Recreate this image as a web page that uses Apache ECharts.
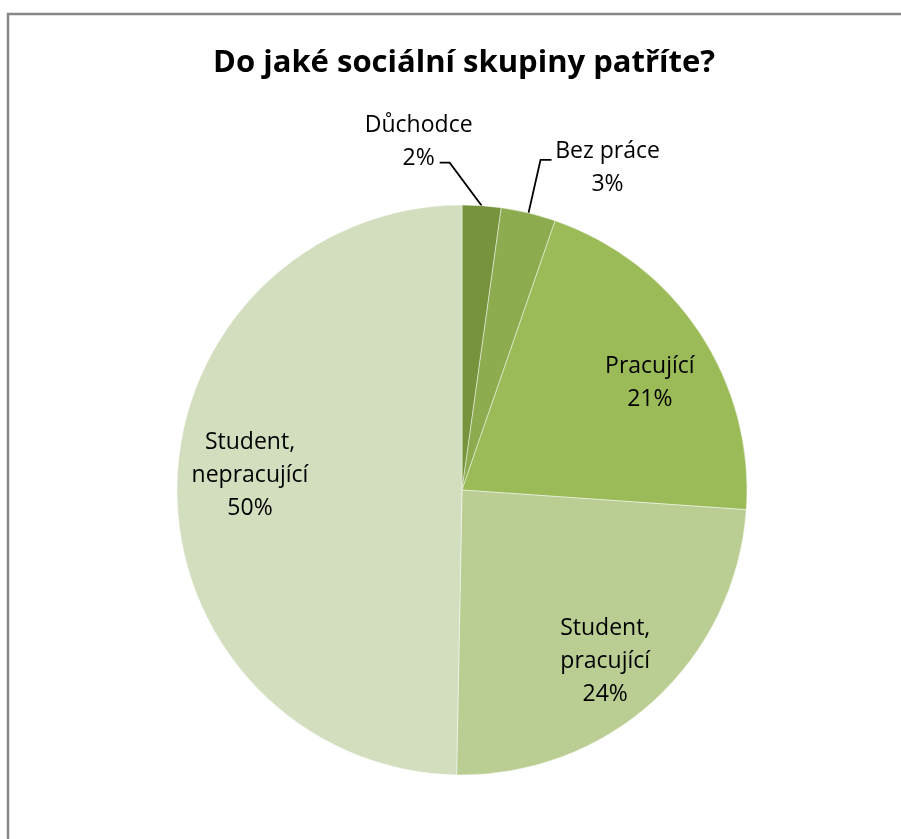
<!DOCTYPE html>
<html>
<head>
<meta charset="utf-8">
<script src="https://cdn.jsdelivr.net/npm/echarts@6/dist/echarts.min.js"></script>
<style>
  html, body { margin: 0; padding: 0; background: #fff; }
  #chart { width: 901px; height: 839px; }
</style>
</head>
<body>
<div id="chart"></div>
<script>
const titleText = 'Do jaké sociální skupiny patříte?';
const categories = ['Důchodce', 'Bez práce', 'Pracující', 'Student, pracující', 'Student, nepracující'];
const values = [2.2, 3.1, 20.8, 24.2, 49.7];
const colors = ['#77933C', '#8DAC50', '#9BBB59', '#BACE93', '#D2DEBE'];
const outsideIdx = [0, 1];

const FONT = '"Open Sans", "Noto Sans", sans-serif';
const fmt = p => p.name.replace(', ', ',\n') + '\n' + Math.round(p.percent) + '%';

const baseData = categories.map((c, i) => ({ name: c, value: values[i], itemStyle: { color: colors[i] } }));

// small label nudges (pixels) to mimic the original label placement
const insideNudge = { 2: [6, 13], 3: [-4, 11], 4: [6, -12] };

const chart = echarts.init(document.getElementById('chart'), null, { renderer: 'canvas' });
chart.setOption({
  animation: false,
  backgroundColor: '#fff',
  title: {
    text: titleText,
    left: 208,
    top: 43,
    padding: 5,
    textStyle: { fontFamily: FONT, fontWeight: 'bold', fontSize: 31, color: '#000' }
  },
  graphic: [{
    type: 'rect',
    shape: { x: 8, y: 14, width: 1000, height: 1000 },
    style: { fill: 'none', stroke: '#868686', lineWidth: 2.5 },
    silent: true
  }],
  series: [
    {
      type: 'pie',
      center: [462, 490],
      radius: [0, 285],
      startAngle: 90,
      clockwise: true,
      avoidLabelOverlap: false,
      itemStyle: { borderColor: 'rgba(255,255,255,0.45)', borderWidth: 1 },
      data: baseData.map((d, i) => Object.assign({}, d, {
        label: { show: outsideIdx.includes(i) },
        labelLine: { show: outsideIdx.includes(i) }
      })),
      label: {
        position: 'outside',
        formatter: fmt,
        fontFamily: FONT, fontSize: 23, lineHeight: 33, color: '#000',
        align: 'center'
      },
      labelLine: { length: 30, length2: 10, lineStyle: { color: '#000', width: 1.8 } },
      labelLayout: function (p) {
        const pts = p.labelLinePoints;
        if (!pts) return;
        const a = pts[0];
        if (p.dataIndex === 0) {
          const elbow = [a[0] - 32, a[1] - 43];
          const end = [elbow[0] - 10, elbow[1]];
          return { x: end[0] - 21, y: end[1] - 21, align: 'center', verticalAlign: 'middle',
                   labelLinePoints: [a, elbow, end] };
        }
        if (p.dataIndex === 1) {
          const elbow = [a[0] + 12, a[1] - 53];
          const end = [elbow[0] + 11, elbow[1]];
          return { x: end[0] + 56, y: end[1] + 8, align: 'center', verticalAlign: 'middle',
                   labelLinePoints: [a, elbow, end] };
        }
      }
    },
    {
      type: 'pie',
      center: [462, 490],
      radius: [145, 285],
      startAngle: 90,
      clockwise: true,
      silent: true,
      itemStyle: { color: 'rgba(0,0,0,0)' },
      data: baseData.map((d, i) => ({
        name: d.name, value: d.value,
        itemStyle: { color: 'rgba(0,0,0,0)', borderWidth: 0 },
        label: { show: !outsideIdx.includes(i) }
      })),
      label: {
        position: 'inside',
        formatter: fmt,
        fontFamily: FONT, fontSize: 23, lineHeight: 33, color: '#000',
        align: 'center'
      },
      labelLine: { show: false },
      labelLayout: function (p) {
        const n = insideNudge[p.dataIndex];
        if (!n) return;
        return { dx: n[0], dy: n[1] };
      }
    }
  ]
});
</script>
</body>
</html>
